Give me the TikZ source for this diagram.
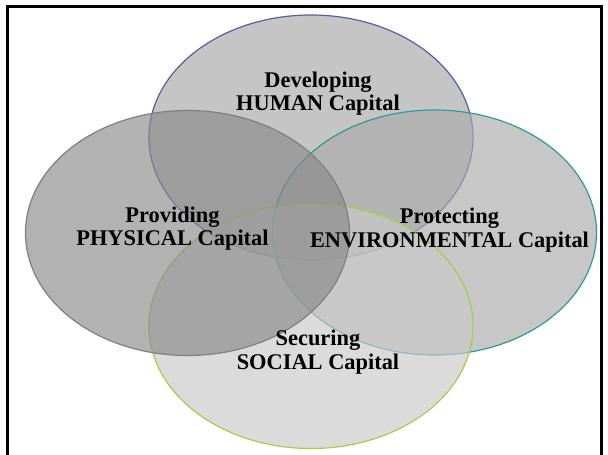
\documentclass[tikz,border=0pt]{standalone}
\usepackage{fontspec}
\setmainfont{Liberation Serif}
\usetikzlibrary{shapes.geometric}
\begin{document}
\begin{tikzpicture}[x=1pt,y=-1pt,
  capital/.style={ellipse, inner sep=0pt, minimum width=324pt, minimum height=245pt,
    line width=1.2pt, fill opacity=0.65, draw opacity=1},
  label/.style={inner sep=0pt, align=center, text=black,
    font=\bfseries\fontsize{22.4}{23.5}\selectfont}]
\definecolor{humanfill}{RGB}{166,166,166}
\definecolor{humanline}{RGB}{92,92,160}
\definecolor{envfill}{RGB}{170,170,170}
\definecolor{envline}{RGB}{46,156,150}
\definecolor{socialfill}{RGB}{201,201,201}
\definecolor{socialline}{RGB}{168,204,69}
\definecolor{physfill}{RGB}{137,137,137}
\definecolor{physline}{RGB}{128,128,128}
\useasboundingbox (0,0) rectangle (608,455);
\fill[white] (0,0) rectangle (608,455);

% the four overlapping capitals, back to front
\node[capital, draw=humanline, fill=humanfill] (human) at (311,137.5) {};
\node[capital, draw=envline, fill=envfill] (env) at (434.5,232.5) {};
\node[capital, draw=socialline, fill=socialfill] (social) at (311,326) {};
\node[capital, draw=physline, fill=physfill] (phys) at (187.5,233) {};

% labels
\node[label] (humantext) at (318,93.5) {Developing\\HUMAN Capital};
\node[label] (phystext) at (172.5,228.5) {Providing\\PHYSICAL Capital};
\node[label] (envtext) at (449.5,230) {Protecting\\ENVIRONMENTAL Capital};
\node[label] (socialtext) at (318,352) {Securing\\SOCIAL Capital};

% frame, open at the bottom
\coordinate (fbl) at (7.5,455);
\coordinate (ftl) at (7.5,6.5);
\coordinate (ftr) at (601.5,6.5);
\coordinate (fbr) at (601.5,455);
\draw[line width=3pt, line join=miter] (fbl) -- (ftl) -- (ftr) -- (fbr);
\end{tikzpicture}
\end{document}
